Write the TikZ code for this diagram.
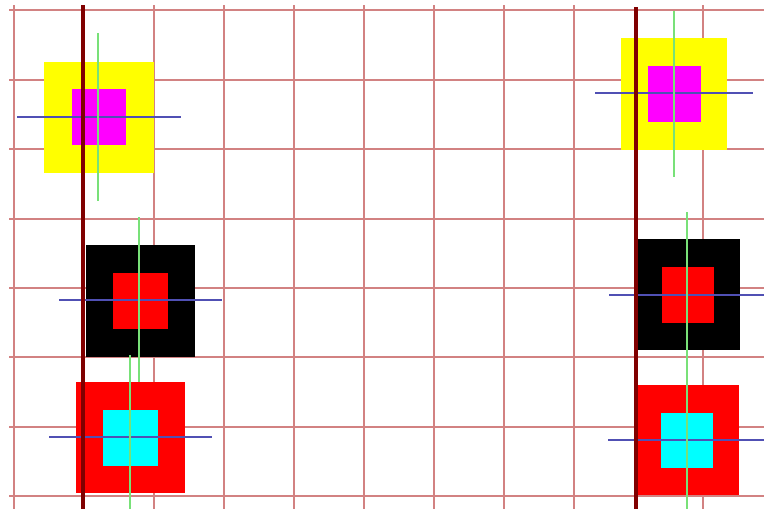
\documentclass[tikz,border=0pt]{standalone}
\usepackage{tikz}
\usetikzlibrary{positioning}

\definecolor{gridred}{RGB}{210,130,130}
\definecolor{bardark}{RGB}{128,0,0}
\definecolor{hairblue}{RGB}{80,80,180}
\definecolor{hairgreen}{RGB}{120,225,120}
\definecolor{spyellow}{RGB}{255,255,0}
\definecolor{spmagenta}{RGB}{255,0,255}
\definecolor{spcyan}{RGB}{0,255,255}
\definecolor{spred}{RGB}{255,0,0}

\begin{document}
\begin{tikzpicture}[
        x=0.025cm, y=-0.025cm,
        gridline/.style={draw=gridred, line width=0.045cm},
        bar/.style={draw=bardark, line width=0.11cm},
        sprite/.style 2 args={rectangle, inner sep=0pt, outer sep=0pt, minimum width=#1*0.025cm, minimum height=#2*0.025cm},
        hline/.style={draw=hairblue, line width=0.035cm},
        vline/.style={draw=hairgreen, line width=0.035cm}
    ]
    \useasboundingbox (0,0) rectangle (764,509);

    % Lưới nền
    \foreach \gx in {14,154,224,294,364,434,504,574,703}
        \draw[gridline] (\gx,5) -- (\gx,509);
    \foreach \gy in {10,80,149,219,288,357,427,496}
        \draw[gridline] (9,\gy) -- (764,\gy);

    % Cột trái
    \node[sprite={110}{111}, fill=spyellow] (yellowL) at (99,117.5) {};
    \node[sprite={54}{56}, fill=spmagenta] (magentaL) at (99,117) {};
    \node[sprite={109}{112}, fill=black] (blackL) at (140.5,301) {};
    \node[sprite={55}{56}, fill=spred] (redinL) at (140.5,301) {};
    \node[sprite={109}{111}, fill=spred] (redL) at (130.5,437.5) {};
    \node[sprite={55}{56}, fill=spcyan] (cyanL) at (130.5,438) {};

    % Cột phải
    \node[sprite={106}{112}, fill=spyellow] (yellowR) at (674,94) {};
    \node[sprite={53}{56}, fill=spmagenta] (magentaR) at (674.5,94) {};
    \node[sprite={102}{111}, fill=black] (blackR) at (689,294.5) {};
    \node[sprite={52}{56}, fill=spred] (redinR) at (688,295) {};
    \node[sprite={101}{110}, fill=spred] (redR) at (688.5,440) {};
    \node[sprite={52}{55}, fill=spcyan] (cyanR) at (687,440.5) {};

    % Đường ngắm ngang
    \draw[hline] (17,117) -- (181,117);
    \draw[hline] (59,300) -- (222,300);
    \draw[hline] (49,437) -- (212,437);
    \draw[hline] (595,93) -- (753,93);
    \draw[hline] (609,295) -- (764,295);
    \draw[hline] (608,440) -- (764,440);

    % Đường ngắm dọc
    \draw[vline] (98,33) -- (98,201);
    \draw[vline] (139,217) -- (139,382);
    \draw[vline] (130,355) -- (130,509);
    \draw[vline] (674,11) -- (674,177);
    \draw[vline] (687,212) -- (687,377);
    \draw[vline] (687,360) -- (687,509);

    % Hai vạch đậm
    \draw[bar] (83,5) -- (83,509);
    \draw[bar] (636,7) -- (636,509);

\end{tikzpicture}
\end{document}
